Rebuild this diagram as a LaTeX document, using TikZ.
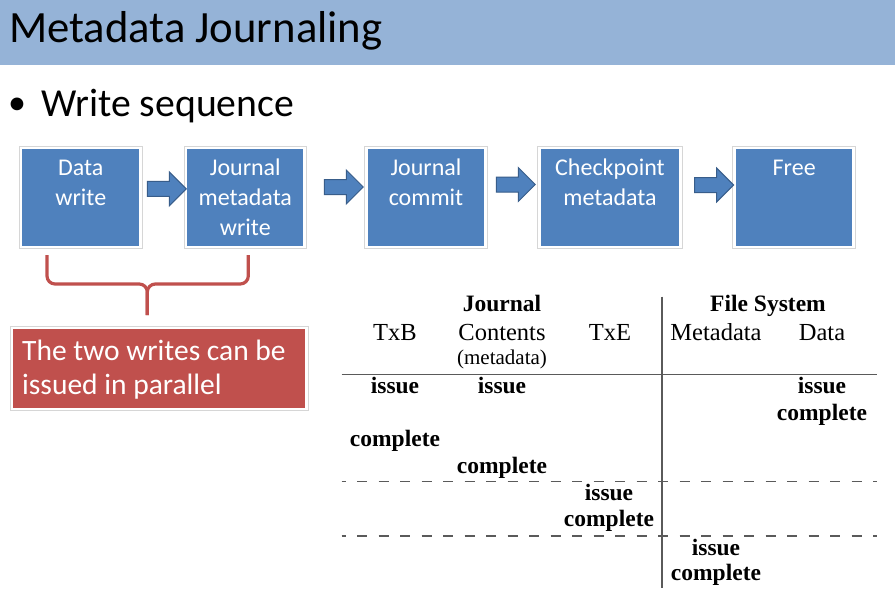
\documentclass[tikz,border=0pt]{standalone}
\usepackage{fontspec}
\setmainfont{Carlito}
\newfontfamily\tablefont{Liberation Serif}
\usetikzlibrary{shapes.arrows,shadows,calc}

\definecolor{titlebar}{HTML}{95B3D7}
\definecolor{stepblue}{HTML}{4F81BD}
\definecolor{stepedge}{HTML}{385D8A}
\definecolor{notered}{HTML}{C0504D}
\definecolor{rulegray}{HTML}{5A5A5A}

\tikzset{
  softshadow/.style={drop shadow={shadow xshift=2.2pt, shadow yshift=-2.2pt, opacity=0.28, fill=black}},
  rimline/.style={preaction={draw=black!16, line width=4.6pt}},
  stepbox/.style={draw=white, line width=2.5pt, fill=stepblue, minimum height=99pt,
    inner sep=0pt, softshadow, rimline},
  steptext/.style={anchor=north, align=center, text=white, inner sep=0pt,
    font=\fontsize{24}{30}\selectfont},
  flowarrow/.style={single arrow, draw=stepedge, fill=stepblue, line width=1pt,
    minimum height=39pt, minimum width=33pt, single arrow head extend=9.5pt,
    inner xsep=0pt, inner ysep=7pt, outer sep=0pt},
  notebox/.style={draw=white, line width=2.5pt, fill=notered, inner sep=0pt, softshadow, rimline},
  notetext/.style={anchor=north west, align=left, text=white, inner sep=0pt,
    font=\fontsize{29.5}{34.5}\selectfont},
  bracket/.style={draw=notered, line width=3.2pt, rounded corners=8pt},
  tablerule/.style={draw=rulegray, line width=1.6pt},
  tabledash/.style={draw=rulegray, line width=1.3pt, dash pattern=on 10pt off 11.5pt, dash phase=6pt},
  thead/.style={anchor=base, inner sep=0pt, font=\tablefont\bfseries\fontsize{23.5}{28}\selectfont},
  tcol/.style={anchor=base, inner sep=0pt, font=\tablefont\fontsize{24.5}{29}\selectfont},
  tsmall/.style={anchor=base, inner sep=0pt, font=\tablefont\fontsize{21}{25}\selectfont},
  tcell/.style={anchor=base, inner sep=0pt, font=\tablefont\bfseries\fontsize{23.5}{28}\selectfont},
}

\begin{document}
\begin{tikzpicture}[x=1pt, y=-1pt]
  \useasboundingbox (0,0) rectangle (895,598);
  \fill[white] (0,0) rectangle (895,598);

  % title bar
  \fill[titlebar] (0,0) rectangle (895,64.5);
  \node[anchor=base west, inner sep=0pt, font=\fontsize{44.7}{52}\selectfont] (title) at (9,42.5) {Metadata Journaling};

  % bullet line
  \node[anchor=base west, inner sep=0pt, font=\fontsize{36}{44}\selectfont] (bullet) at (8,114) {•};
  \node[anchor=base west, inner sep=0pt, font=\fontsize{39.7}{48}\selectfont] (subtitle) at (41,116) {Write sequence};

  % write sequence steps
  \node[stepbox, minimum width=119.5pt] (b1) at (80.8,197.3) {};
  \node[stepbox, minimum width=118.5pt] (b2) at (245.3,197.3) {};
  \node[stepbox, minimum width=119pt]   (b3) at (426,197.3) {};
  \node[stepbox, minimum width=141pt]   (b4) at (610,197.3) {};
  \node[stepbox, minimum width=119pt]   (b5) at (794.2,197.3) {};

  \node[steptext] (t1) at (80.8,156)  {\rule{0pt}{19pt}Data\\write};
  \node[steptext] (t2) at (245.3,156) {\rule{0pt}{19pt}Journal\\metadata\\write};
  \node[steptext] (t3) at (426,156)   {\rule{0pt}{19pt}Journal\\commit};
  \node[steptext] (t4) at (610,156)   {\rule{0pt}{19pt}Checkpoint\\metadata};
  \node[steptext] (t5) at (794.2,156) {\rule{0pt}{19pt}Free};

  % block arrows between the steps
  \node[flowarrow] (a1) at (163,188.8) {};
  \node[flowarrow] (a2) at (340,187) {};
  \node[flowarrow] (a3) at (512,184.5) {};
  \node[flowarrow] (a4) at (710.4,185) {};

  % bracket grouping the first two writes
  \draw[bracket] (47,255) |- (147.3,284) -- (147.3,315);
  \draw[bracket] (248.3,255) |- (147.3,284) -- (147.3,315);

  % note
  \node[notebox, minimum width=294.2pt, minimum height=80.9pt] (note) at (159.2,368.5) {};
  \node[notetext] (notetxt) at (22,338) {\rule{0pt}{22pt}The two writes can be\\issued in parallel};

  % timeline table rules
  \coordinate (vtop) at (661.7,296.7);
  \coordinate (vbot) at (661.7,588);
  \draw[tablerule] (vtop) -- (vbot);
  \draw[tablerule] (341.7,374.3) -- (876.7,374.3);
  \draw[tabledash] (341.7,481.7) -- (876.7,481.7);
  \draw[tabledash] (341.7,536) -- (876.7,536);

  % table header
  \node[thead] (hj) at (502,311.7) {Journal};
  \node[thead] (hf) at (768,311.7) {File System};
  \node[tcol] (c1) at (395,340) {TxB};
  \node[tcol] (c2) at (502,340) {Contents};
  \node[tcol] (c3) at (610,340) {TxE};
  \node[tcol] (c4) at (716,340) {Metadata};
  \node[tcol] (c5) at (822,340) {Data};
  \node[tsmall] (c2b) at (502,364) {(metadata)};

  % table body
  \node[tcell] (r1a) at (395,393) {issue};
  \node[tcell] (r1b) at (502,393) {issue};
  \node[tcell] (r1e) at (822,393) {issue};
  \node[tcell] (r2e) at (822,420) {complete};
  \node[tcell] (r3a) at (395,446.7) {complete};
  \node[tcell] (r4b) at (502,473.3) {complete};
  \node[tcell] (r5c) at (609,500) {issue};
  \node[tcell] (r6c) at (609,526.7) {complete};
  \node[tcell] (r7d) at (716,555) {issue};
  \node[tcell] (r8d) at (716,580) {complete};
\end{tikzpicture}
\end{document}
